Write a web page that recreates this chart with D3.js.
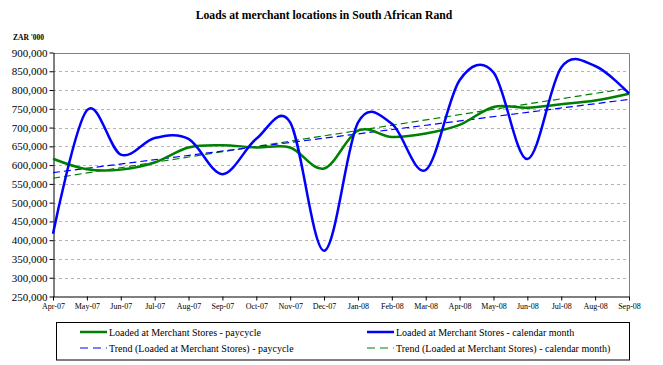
<!DOCTYPE html>
<html><head><meta charset="utf-8">
<script src="https://cdn.jsdelivr.net/npm/d3@7"></script>
<style>
html,body{margin:0;padding:0;background:#fff;}
svg{display:block;}
svg text{font-family:"Liberation Serif","Times New Roman",Times,serif;}
</style></head>
<body>
<svg id="chart" width="663" height="365"></svg>
<script>
const months = ["Apr-07","May-07","Jun-07","Jul-07","Aug-07","Sep-07","Oct-07","Nov-07","Dec-07","Jan-08","Feb-08","Mar-08","Apr-08","May-08","Jun-08","Jul-08","Aug-08","Sep-08"];
const paycycle = [617000,589000,588000,607000,647000,653000,647000,647000,591000,692000,675000,684000,707000,755000,753000,762000,772000,790000];
const calendarMonth = [417000,746000,628000,672000,670000,576000,670000,714000,372000,713000,710000,587000,826000,847000,616000,860000,864000,791000];
const trendPaycycle = [580000,775000];
const trendCalendar = [565000,805000];
const yTicks = [250000,300000,350000,400000,450000,500000,550000,600000,650000,700000,750000,800000,850000,900000];

const svg = d3.select("#chart");
const L = 53, R = 629, T = 52.5, B = 296.5;
const x = d3.scalePoint().domain(months).range([L, R]);
const y = d3.scaleLinear().domain([250000, 900000]).range([B, T]);
const serif = "Liberation Serif";

// title
svg.append("text").attr("x", 324).attr("y", 19).attr("text-anchor", "middle").attr("font-family", serif)
  .attr("font-size", 11.7).attr("font-weight", "bold").text("Loads at merchant locations in South African Rand");
svg.append("text").attr("x", 13).attr("y", 39.5).attr("font-family", serif).attr("font-size", 7.5).attr("font-weight", "bold").text("ZAR '000");

// gridlines
svg.append("g").selectAll("line").data(yTicks.filter(v => v > 250000 && v < 900000)).join("line")
  .attr("x1", L).attr("x2", R).attr("y1", d => Math.round(y(d)) + 0.5).attr("y2", d => Math.round(y(d)) + 0.5)
  .attr("stroke", "#b4b4b4").attr("stroke-width", 1).attr("stroke-dasharray", "3,3");

// top & right border
svg.append("path").attr("d", `M${L},${Math.round(T)+0.5}H${R+0.5}V${B}`).attr("fill", "none").attr("stroke", "#808080").attr("stroke-width", 1);

// axes
const yAxis = d3.axisLeft(y).tickValues(yTicks).tickSize(4).tickSizeOuter(0).tickFormat(d3.format(","));
const gy = svg.append("g").attr("transform", `translate(${L + 0.5},0)`).call(yAxis);
gy.attr("font-family", serif);
gy.select(".domain").attr("stroke", "#000");
gy.selectAll(".tick line").attr("stroke", "#000");
gy.selectAll("text").attr("font-size", 11).attr("font-family", serif).attr("fill", "#000").attr("x", -6);

const xAxis = d3.axisBottom(x).tickSize(4).tickSizeOuter(0);
const gx = svg.append("g").attr("transform", `translate(0,${Math.round(B) - 0.5})`).call(xAxis);
gx.attr("font-family", serif);
gx.select(".domain").attr("stroke", "#000");
gx.selectAll(".tick line").attr("stroke", "#000");
gx.selectAll("text").attr("font-size", 8).attr("font-family", serif).attr("fill", "#000").attr("y", 7);

// trend lines
const trendLine = d3.line().x((d, i) => i === 0 ? x(months[0]) : x(months[months.length - 1])).y(d => y(d));
svg.append("path").datum(trendCalendar).attr("d", trendLine).attr("fill", "none").attr("stroke", "#008000").attr("stroke-width", 1.2).attr("stroke-dasharray", "7,4");
svg.append("path").datum(trendPaycycle).attr("d", trendLine).attr("fill", "none").attr("stroke", "#0000ff").attr("stroke-width", 1.2).attr("stroke-dasharray", "7,4");

// series
const line = d3.line().x((d, i) => x(months[i])).y(d => y(d)).curve(d3.curveCardinal.tension(0));
svg.append("path").datum(paycycle).attr("d", line).attr("fill", "none").attr("stroke", "#008000").attr("stroke-width", 2.5);
svg.append("path").datum(calendarMonth).attr("d", line).attr("fill", "none").attr("stroke", "#0000ff").attr("stroke-width", 2.5);

// legend
svg.append("rect").attr("x", 56.5).attr("y", 322.5).attr("width", 573).attr("height", 37.5).attr("fill", "#fff").attr("stroke", "#000").attr("stroke-width", 1);
const legend = [
  {label: "Loaded at Merchant Stores - paycycle", color: "#008000", dash: null, lx: 80, ty: 332},
  {label: "Loaded at Merchant Stores - calendar month", color: "#0000ff", dash: null, lx: 367, ty: 332},
  {label: "Trend (Loaded at Merchant Stores) - paycycle", color: "#0000ff", dash: "8,5", lx: 80, ty: 348},
  {label: "Trend (Loaded at Merchant Stores) - calendar month)", color: "#008000", dash: "8,5", lx: 367, ty: 348}
];
const lg = svg.append("g").selectAll("g").data(legend).join("g");
lg.append("line").attr("x1", d => d.lx).attr("x2", d => d.lx + 27).attr("y1", d => d.ty).attr("y2", d => d.ty)
  .attr("stroke", d => d.color).attr("stroke-width", d => d.dash ? 1.2 : 2.5).attr("stroke-dasharray", d => d.dash);
lg.append("text").attr("x", d => d.lx + 29).attr("y", d => d.ty + 3.5).attr("font-family", serif).attr("font-size", 10).text(d => d.label);
</script>
</body></html>
